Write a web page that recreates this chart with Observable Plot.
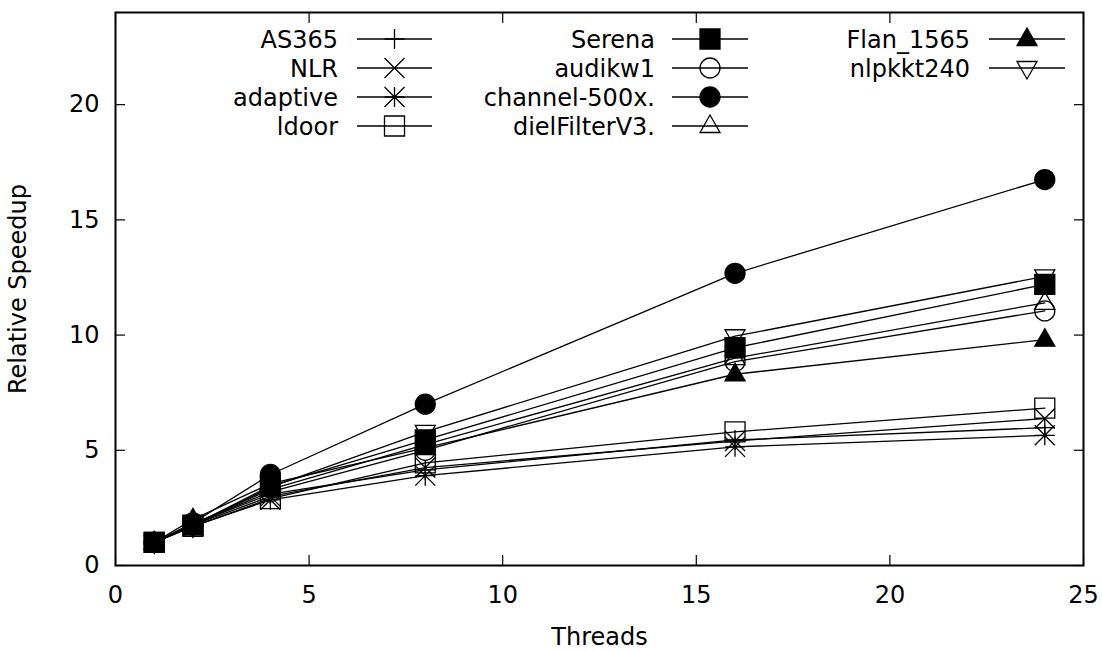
<!DOCTYPE html>
<html>
<head>
<meta charset="utf-8">
<script src="https://cdn.jsdelivr.net/npm/d3@7"></script>
<script src="https://cdn.jsdelivr.net/npm/@observablehq/plot@0.6"></script>
<style>
  html, body { margin: 0; padding: 0; background: #fff; }
  #chart { width: 1102px; height: 650px; }
</style>
</head>
<body>
<div id="chart"></div>
<script>
// ---- data ----
const threads = [1, 2, 4, 8, 16, 24];
const seriesNames = ["AS365", "NLR", "adaptive", "ldoor", "Serena", "audikw1", "channel-500x.", "dielFilterV3.", "Flan_1565", "nlpkkt240"];
const AS365      = [1, 1.80, 3.10, 4.15, 5.45, 5.98];
const NLR        = [1, 1.75, 3.00, 4.25, 5.40, 6.38];
const adaptive   = [1, 1.70, 2.85, 3.90, 5.15, 5.65];
const ldoor      = [1, 1.70, 2.90, 4.45, 5.80, 6.83];
const Serena     = [1, 1.75, 3.45, 5.45, 9.45, 12.20];
const audikw1    = [1, 1.80, 3.20, 5.00, 8.85, 11.05];
const channel500 = [1, 1.85, 3.95, 7.00, 12.68, 16.75];
const dielFilter = [1, 1.80, 3.30, 5.25, 9.00, 11.40];
const Flan1565   = [1, 2.00, 3.55, 5.10, 8.30, 9.80];
const nlpkkt240  = [1, 1.70, 3.40, 5.80, 9.95, 12.55];
const seriesValues = [AS365, NLR, adaptive, ldoor, Serena, audikw1, channel500, dielFilter, Flan1565, nlpkkt240];
const filledSeries = ["Serena", "channel-500x.", "Flan_1565"];
const xTicks = [0, 5, 10, 15, 20, 25];
const yTicks = [0, 5, 10, 15, 20];

// ---- gnuplot-like point types ----
const rOf = size => Math.sqrt(size / Math.PI);
const symPlus = { draw(c, s) { const r = rOf(s); c.moveTo(-r, 0); c.lineTo(r, 0); c.moveTo(0, -r); c.lineTo(0, r); } };
const symTimes = { draw(c, s) { const r = rOf(s); c.moveTo(-r, -r); c.lineTo(r, r); c.moveTo(-r, r); c.lineTo(r, -r); } };
const symStar = { draw(c, s) { const r = rOf(s); c.moveTo(-r, 0); c.lineTo(r, 0); c.moveTo(0, -r); c.lineTo(0, r); c.moveTo(-r, -r); c.lineTo(r, r); c.moveTo(-r, r); c.lineTo(r, -r); } };
const symSquare = { draw(c, s) { const r = rOf(s); c.moveTo(-r, -r); c.lineTo(r, -r); c.lineTo(r, r); c.lineTo(-r, r); c.closePath(); } };
const symCircle = { draw(c, s) { const r = rOf(s); c.moveTo(r, 0); c.arc(0, 0, r, 0, 2 * Math.PI); c.closePath(); } };
const symTriUp = { draw(c, s) { const r = rOf(s); c.moveTo(0, -1.1 * r); c.lineTo(r, 0.65 * r); c.lineTo(-r, 0.65 * r); c.closePath(); } };
const symTriDown = { draw(c, s) { const r = rOf(s); c.moveTo(0, 1.1 * r); c.lineTo(r, -0.65 * r); c.lineTo(-r, -0.65 * r); c.closePath(); } };
const seriesSymbols = [symPlus, symTimes, symStar, symSquare, symSquare, symCircle, symCircle, symTriUp, symTriUp, symTriDown];

const rows = [];
seriesNames.forEach((name, i) => {
  threads.forEach((t, j) => rows.push({ series: name, threads: t, speedup: seriesValues[i][j], fill: filledSeries.includes(name) ? "black" : "transparent" }));
});

const FONT = "DejaVu Sans, sans-serif";
const FS = 24;

const chart = Plot.plot({
  width: 1102,
  height: 650,
  marginLeft: 115,
  marginRight: 19,
  marginTop: 12,
  marginBottom: 85,
  style: { fontFamily: FONT, fontSize: FS + "px", color: "black", background: "white" },
  x: { domain: [0, 25] },
  y: { domain: [0, 24] },
  symbol: { domain: seriesNames, range: seriesSymbols },
  color: { type: "identity" },
  marks: [
    Plot.axisX(xTicks, { anchor: "bottom", tickSize: -10, fill: "none", label: null, strokeWidth: 1.2 }),
    Plot.axisX(xTicks, { anchor: "top", tickSize: -10, fill: "none", label: null, strokeWidth: 1.2 }),
    Plot.axisY(yTicks, { anchor: "left", tickSize: -10, fill: "none", label: null, strokeWidth: 1.2 }),
    Plot.axisY(yTicks, { anchor: "right", tickSize: -10, fill: "none", label: null, strokeWidth: 1.2 }),
    Plot.axisX(xTicks, { anchor: "bottom", tickSize: 0, tickPadding: 20, label: "Threads", labelAnchor: "center", labelOffset: 79, labelArrow: "none", fontSize: FS }),
    Plot.axisY(yTicks, { anchor: "left", tickSize: 0, tickPadding: 16, label: "Relative Speedup", labelAnchor: "center", labelOffset: 107, labelArrow: "none", fontSize: FS }),
    Plot.line(rows, { x: "threads", y: "speedup", z: "series", stroke: "black", strokeWidth: 1.3 }),
    Plot.dot(rows, { x: "threads", y: "speedup", symbol: "series", r: 10, fill: "fill", stroke: "black", strokeWidth: 1.3 }),
    Plot.frame({ stroke: "black", strokeWidth: 2 })
  ]
});
document.getElementById("chart").appendChild(chart);

// ---- legend (inside the frame, gnuplot style: 3 columns x 4 rows) ----
const svg = d3.select(chart);
const colText = [338, 655, 970];
const colLine = [[357, 432], [672, 748], [989, 1065]];
const rowY = [39, 68, 97, 126];
const lg = svg.append("g").attr("font-family", FONT).attr("font-size", FS);
seriesNames.forEach((name, i) => {
  const col = Math.floor(i / 4), row = i % 4;
  const y = rowY[row];
  lg.append("text").attr("x", colText[col]).attr("y", y).attr("dy", "0.36em")
    .attr("text-anchor", "end").attr("fill", "black").text(name);
  lg.append("line").attr("x1", colLine[col][0]).attr("x2", colLine[col][1])
    .attr("y1", y).attr("y2", y).attr("stroke", "black").attr("stroke-width", 1.3);
  const cx = (colLine[col][0] + colLine[col][1]) / 2;
  lg.append("path").attr("transform", `translate(${cx},${y})`)
    .attr("d", d3.symbol().type(seriesSymbols[i]).size(Math.PI * 100)())
    .attr("fill", filledSeries.includes(name) ? "black" : "none")
    .attr("stroke", "black").attr("stroke-width", 1.3);
});
</script>
</body>
</html>
